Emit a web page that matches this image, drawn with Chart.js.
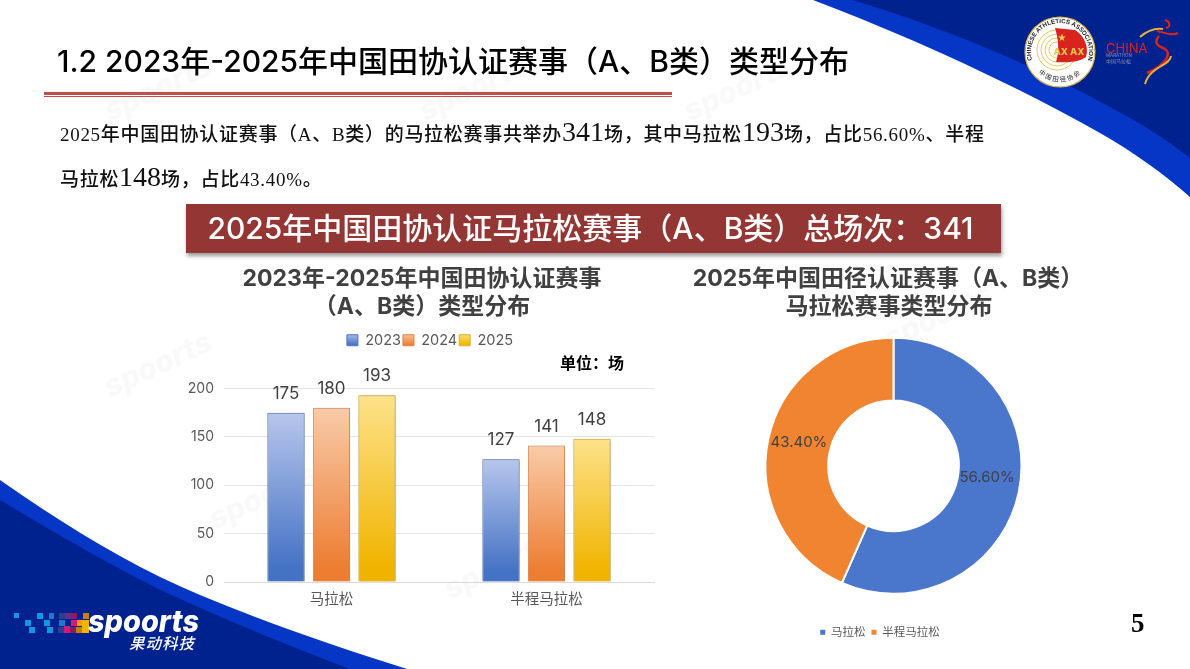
<!DOCTYPE html>
<html lang="zh">
<head>
<meta charset="utf-8">
<title>2023年-2025年中国田协认证赛事类型分布</title>
<script src="https://cdn.jsdelivr.net/npm/chart.js@4"></script>
<style>
html,body{margin:0;padding:0;background:#fff}
#page{position:relative;width:1190px;height:669px;overflow:hidden;background:#fff;font-family:Inter,"Noto Sans CJK SC",sans-serif}
#bg{position:absolute;left:0;top:0}
.t{position:absolute;white-space:nowrap}
#head{left:57px;top:41px;font-size:30px;line-height:40px;font-weight:500;color:#000}
#rule1{position:absolute;left:44px;top:92px;width:628px;height:3px;background:#c0504d}
#rule2{position:absolute;left:44px;top:96px;width:628px;height:1px;background:#c0504d}
.body{font-family:"Liberation Serif","Noto Sans CJK SC",serif;font-weight:500;font-size:19px;line-height:30px;color:#111;letter-spacing:.7px}
.body b{font-size:28px;font-weight:400;letter-spacing:0}
#line1{left:60px;top:117px}
#line2{left:60px;top:162px}
#banner{position:absolute;left:186px;top:204px;width:809px;height:49px;padding-right:6px;background:#943634;box-shadow:1px 3px 4px rgba(0,0,0,.4);color:#fff;font-size:30px;font-weight:500;line-height:48px;text-align:center;white-space:nowrap}
.ct{font-size:23px;font-weight:700;color:#404040;line-height:28px;text-align:center;width:500px}
#unit{left:560px;top:353px;font-size:16px;line-height:20px;font-weight:700;color:#000}
#pageno{left:1131px;top:607px;font-family:"Liberation Serif",serif;font-weight:700;font-size:27px;line-height:32px;color:#000}
#barBox{position:absolute;left:180px;top:322px;width:500px;height:290px}
#pieBox{position:absolute;left:720px;top:311px;width:320px;height:337px}
</style>
</head>
<body>
<div id="page">
<svg id="bg" width="1190" height="669" viewBox="0 0 1190 669" xmlns="http://www.w3.org/2000/svg">
  <defs>
    <path id="ringTop" d="M1039.5 72.5A29 29 0 1 1 1080.5 72.5"/>
    <path id="ringBot" d="M1037 71A30 30 0 0 0 1083 71"/>
  </defs>
  <!-- swooshes -->
  <path d="M813 0C900 33 1000 77 1100 133C1135 153 1165 175 1190 197V0Z" fill="#0536c6"/>
  <path d="M852 0C960 32 1060 78 1130 118C1155 132 1175 146 1190 158V0Z" fill="#00228f"/>
  <path d="M0 480C67 527 133 567 200 595C267 623 340 648 407 669H0Z" fill="#0536c6"/>
  <path d="M0 500C67 540 110 565 167 593C230 622 300 650 350 669H0Z" fill="#00228f"/>
  <!-- watermarks -->
  <g font-family="Inter,sans-serif" font-style="italic" font-weight="800" font-size="30" fill="#000" opacity=".025">
    <text transform="translate(110 122) rotate(-25)">spoorts</text>
    <text transform="translate(425 122) rotate(-25)">spoorts</text>
    <text transform="translate(690 122) rotate(-25)">spoorts</text>
    <text transform="translate(110 398) rotate(-25)">spoorts</text>
    <text transform="translate(215 530) rotate(-25)">spoorts</text>
    <text transform="translate(450 600) rotate(-25)">spoorts</text>
    <text transform="translate(890 350) rotate(-25)">spoorts</text>
  </g>
  <!-- association emblem -->
  <circle cx="1060" cy="52" r="35" fill="#fff" stroke="#d9b44a" stroke-width="1.2"/>
  <g fill="none" stroke="#e3c765" stroke-width="1"><circle cx="1057" cy="50" r="8"/><circle cx="1057" cy="50" r="12"/><circle cx="1057" cy="50" r="16"/><circle cx="1057" cy="50" r="20"/></g>
  <path d="M1055 28L1075 30C1085 36 1089 48 1086 57C1080 62 1065 63 1056 62C1060 50 1058 38 1055 28Z" fill="#d8241c"/>
  <text x="1069" y="55" text-anchor="middle" font-family="Inter,sans-serif" font-weight="800" font-size="9.5" fill="#eac64f">AX AX</text>
  <text x="1062" y="41" text-anchor="middle" font-size="9" fill="#f4d64e">★</text>
  <text font-family="Liberation Sans,sans-serif" font-weight="700" font-size="6.2" fill="#222"><textPath href="#ringTop" startOffset="50%" text-anchor="middle">CHINESE ATHLETICS ASSOCIATION</textPath></text>
  <text font-family="Noto Sans CJK SC,sans-serif" font-size="6.5" fill="#222" letter-spacing="1.5"><textPath href="#ringBot" startOffset="50%" text-anchor="middle">中国田径协会</textPath></text>
  <!-- marathon mark -->
  <text x="1106" y="53" font-family="Inter,sans-serif" font-size="13" fill="#d8241c">CHINA</text>
  <text x="1106" y="57" font-family="Inter,sans-serif" font-size="4.5" fill="#8a90a8">MARATHON</text>
  <text x="1106" y="63" font-family="Noto Sans CJK SC,sans-serif" font-size="5" fill="#8a90a8">中国马拉松</text>
  <path d="M1140 37C1148 30 1156 28 1163 29" fill="none" stroke="#e3b13a" stroke-width="2"/>
  <path d="M1157 31C1165 33 1172 36 1178 33M1166 28C1171 27 1170 21 1165 20" fill="none" stroke="#d8241c" stroke-width="2"/>
  <path d="M1159 36C1153 43 1158 46 1165 49C1171 53 1168 64 1147 73" fill="none" stroke="#d8241c" stroke-width="2.5"/>
  <path d="M1171 56C1170 66 1150 66 1145 84" fill="none" stroke="#e3b13a" stroke-width="2"/>
  <!-- spoorts logo -->
  <g>
    <rect x="14" y="613" width="5" height="5" fill="#0b9ae0"/><rect x="25" y="620" width="6" height="6" fill="#0b9ae0"/><rect x="29" y="627" width="6" height="6" fill="#0b9ae0"/>
    <rect x="37" y="613" width="6" height="6" fill="#0b9ae0"/><rect x="44" y="620" width="6" height="6" fill="#0b9ae0"/><rect x="47" y="627" width="6" height="6" fill="#0b9ae0"/><rect x="49" y="613" width="5" height="6" fill="#1d7ac8"/>
    <rect x="59" y="613" width="6" height="6" fill="#2a3f8c"/><rect x="59" y="620" width="6" height="6" fill="#1d7ac8"/><rect x="58" y="627" width="6" height="6" fill="#2a3f8c"/>
    <rect x="65" y="613" width="6" height="6" fill="#6a2a8c"/><rect x="64" y="626" width="6" height="7" fill="#d6197f"/><rect x="71" y="613" width="6" height="6" fill="#8c1a5c"/><rect x="71" y="620" width="6" height="6" fill="#d6197f"/><rect x="70" y="627" width="6" height="6" fill="#8c1a5c"/>
    <rect x="77" y="620" width="6" height="6" fill="#e8a00a"/><rect x="76" y="627" width="6" height="6" fill="#c77f0c"/><rect x="83" y="613" width="6" height="6" fill="#c77f0c"/><rect x="82" y="620" width="7" height="13" fill="#f0b400"/>
  </g>
  <text x="88" y="632" font-family="Inter,sans-serif" font-style="italic" font-weight="800" font-size="30" fill="#fff" textLength="111" lengthAdjust="spacingAndGlyphs">spoorts</text>
  <text x="129" y="649" font-family="Noto Sans CJK SC,sans-serif" font-style="italic" font-weight="500" font-size="15.5" fill="#fff" textLength="65">果动科技</text>
</svg>

<div class="t" id="head">1.2 2023年-2025年中国田协认证赛事（A、B类）类型分布</div>
<div id="rule1"></div><div id="rule2"></div>
<div class="t body" id="line1">2025年中国田协认证赛事（A、B类）的马拉松赛事共举办<b>341</b>场，其中马拉松<b>193</b>场，占比56.60%、半程</div>
<div class="t body" id="line2">马拉松<b>148</b>场，占比43.40%。</div>
<div id="banner">2025年中国田协认证马拉松赛事（A、B类）总场次：341</div>
<div class="t ct" style="left:172px;top:264px">2023年-2025年中国田协认证赛事</div>
<div class="t ct" style="left:172px;top:292px">（A、B类）类型分布</div>
<div class="t ct" style="left:638px;top:264px">2025年中国田径认证赛事（A、B类）</div>
<div class="t ct" style="left:639px;top:292px">马拉松赛事类型分布</div>
<div class="t" id="unit">单位：场</div>
<div class="t" id="pageno">5</div>
<div id="barBox"><canvas id="barChart"></canvas></div>
<div id="pieBox"><canvas id="pieChart"></canvas></div>
</div>

<script>
// Data
const categories = ['马拉松', '半程马拉松'];
const years = ['2023', '2024', '2025'];
const values2023 = [175, 127];
const values2024 = [180, 141];
const values2025 = [193, 148];
const yTicks = [0, 50, 100, 150, 200];

const pieLabels = ['马拉松', '半程马拉松'];
const pieValues = [56.60, 43.40];

const FONT = 'Inter, "Noto Sans CJK SC", sans-serif';
const lightColors = ['#b7c6ec', '#f8cba9', '#fde28a'];
const baseColors = ['#4472c4', '#ed7d31', '#f0b400'];
const edgeColors = ['#5274c0', '#dc8448', '#d9b02a'];
const pieColors = ['#4a76cc', '#f08430'];

// Gradient helper, one gradient per bar
function barGradient(chart, i, top, bottom) {
    const g = chart.ctx.createLinearGradient(0, top, 0, bottom);
    g.addColorStop(0, lightColors[i]);
    g.addColorStop(0.92, baseColors[i]);
    g.addColorStop(1, baseColors[i]);
    return g;
}

function barFill(i) {
    return c => {
        const y = c.chart.scales.y;
        if (!y || c.raw === undefined) return baseColors[i];
        return barGradient(c.chart, i, y.getPixelForValue(c.raw), y.getPixelForValue(0));
    };
}

// Soft shadow under the bars, numbers above them
const barLabels = {
    id: 'barLabels',
    beforeDatasetsDraw(chart) {
        const ctx = chart.ctx;
        ctx.save();
        ctx.shadowColor = 'rgba(0,0,0,0.25)';
        ctx.shadowBlur = 3;
        ctx.shadowOffsetX = 1;
    },
    afterDatasetsDraw(chart) {
        const ctx = chart.ctx;
        ctx.restore();
        ctx.save();
        ctx.font = '17px ' + FONT;
        ctx.fillStyle = '#404040';
        ctx.textAlign = 'center';
        ctx.textBaseline = 'middle';
        chart.data.datasets.forEach((ds, i) => {
            chart.getDatasetMeta(i).data.forEach((bar, j) => {
                ctx.fillText(ds.data[j], bar.x, bar.y - 19);
            });
        });
        ctx.restore();
    }
};

// Room under the legend and its centre off the plot centre
const legendRoom = {
    id: 'legendRoom',
    beforeInit(chart) {
        const fit = chart.legend.fit;
        chart.legend.fit = function () {
            fit.call(this);
            this.height += 40;
        };
    },
    afterLayout(chart) {
        chart.legend.right += 26;
        chart.legend.top += 9;
    }
};

new Chart(document.getElementById('barChart'), {
    type: 'bar',
    data: {
        labels: categories,
        datasets: [values2023, values2024, values2025].map((v, i) => ({
            label: years[i],
            data: v,
            backgroundColor: barFill(i),
            borderColor: edgeColors[i],
            borderWidth: 1,
            categoryPercentage: 0.635,
            barPercentage: 0.82
        }))
    },
    plugins: [barLabels, legendRoom],
    options: {
        responsive: true,
        maintainAspectRatio: false,
        animation: false,
        layout: { padding: { right: 26 } },
        plugins: {
            tooltip: { enabled: false },
            legend: {
                position: 'top',
                labels: {
                    font: { family: FONT, size: 14.5 },
                    color: '#595959',
                    boxWidth: 11,
                    boxHeight: 11,
                    padding: 2,
                    generateLabels(chart) {
                        return years.map((y, i) => {
                            const g = chart.ctx.createLinearGradient(0, 11, 0, 23);
                            g.addColorStop(0, lightColors[i]);
                            g.addColorStop(1, baseColors[i]);
                            return { text: y, fillStyle: g, strokeStyle: edgeColors[i], lineWidth: 1, fontColor: '#595959', datasetIndex: i };
                        });
                    }
                }
            }
        },
        scales: {
            x: {
                grid: { display: false },
                border: { color: '#d9d9d9' },
                afterFit(s) { s.height = 30; },
                ticks: { font: { family: FONT, size: 14.5 }, color: '#595959', padding: 1 }
            },
            y: {
                min: 0,
                max: 200,
                afterFit(s) { s.width = 44; },
                afterBuildTicks(s) { s.ticks = yTicks.map(v => ({ value: v })); },
                border: { display: false },
                grid: { color: '#e4e4e4', drawTicks: false },
                ticks: { font: { family: FONT, size: 14 }, color: '#595959', padding: 10 }
            }
        }
    }
});

// Percent labels on the ring
const pieLabelShift = [[-1, -8], [0, -3]];
const pieText = {
    id: 'pieText',
    afterLayout(chart) {
        chart.legend.left -= 27;
    },
    afterDatasetsDraw(chart) {
        const ctx = chart.ctx;
        ctx.save();
        ctx.font = '15px ' + FONT;
        ctx.fillStyle = '#404040';
        ctx.textAlign = 'center';
        ctx.textBaseline = 'middle';
        chart.getDatasetMeta(0).data.forEach((arc, i) => {
            const p = arc.getCenterPoint();
            ctx.fillText(pieValues[i].toFixed(2) + '%', p.x + pieLabelShift[i][0], p.y + pieLabelShift[i][1]);
        });
        ctx.restore();
    }
};

new Chart(document.getElementById('pieChart'), {
    type: 'doughnut',
    data: {
        labels: pieLabels,
        datasets: [{
            data: pieValues,
            backgroundColor: pieColors,
            borderColor: '#fff',
            borderWidth: 2
        }]
    },
    plugins: [pieText],
    options: {
        responsive: true,
        maintainAspectRatio: false,
        animation: false,
        cutout: '51%',
        radius: 128,
        layout: { padding: { left: 27 } },
        plugins: {
            tooltip: { enabled: false },
            legend: {
                position: 'bottom',
                labels: {
                    font: { family: FONT, size: 11.5 },
                    color: '#595959',
                    boxWidth: 5,
                    boxHeight: 5,
                    padding: 6,
                    generateLabels() {
                        return pieLabels.map((t, i) => ({ text: t, fillStyle: pieColors[i], lineWidth: 0, fontColor: '#595959', index: i }));
                    }
                }
            }
        }
    }
});
</script>
</body>
</html>
